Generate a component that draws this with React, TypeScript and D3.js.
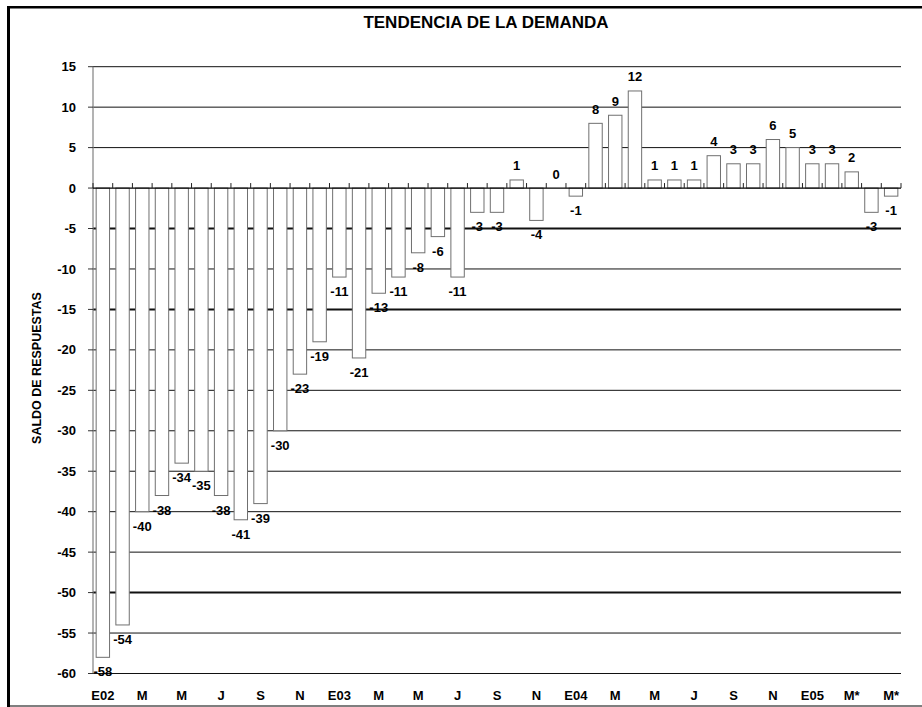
import React from "react";
import * as d3 from "d3";

const categories = ["E02","F","M","A","M","J","J","A","S","O","N","D","E03","F","M","A","M","J","J","A","S","O","N","D","E04","F","M","A","M","J","J","A","S","O","N","D","E05","F","M*","A","M*"];
const values = [-58,-54,-40,-38,-34,-35,-38,-41,-39,-30,-23,-19,-11,-21,-13,-11,-8,-6,-11,-3,-3,1,-4,0,-1,8,9,12,1,1,1,4,3,3,6,5,3,3,2,-3,-1];
const yTicks = [15,10,5,0,-5,-10,-15,-20,-25,-30,-35,-40,-45,-50,-55,-60];
const thickLines = [-5,-15,-50];
const title = "TENDENCIA DE LA DEMANDA";
const yTitle = "SALDO DE RESPUESTAS";

const W = 922, H = 707;
const X0 = 93, X1 = 901;
const FONT = "Arial, 'Liberation Sans', sans-serif";

export default function App() {
  const idx = categories.map((_, i) => i);
  const pi = 0.32;
  const x = d3.scaleBand<number>().domain(idx).range([X0, X1]).paddingInner(pi).paddingOuter(pi / 2);
  const y = d3.scaleLinear().domain([-60, 15]).range([673.5, 66.7]);
  const step = x.step();
  const bw = x.bandwidth();
  const boundaries = d3.range(categories.length + 1).map(i => X0 + i * step);

  return (
    <svg width={W} height={H} style={{ position: "fixed", left: 0, top: 0, background: "#fff" }} fontFamily={FONT}>
      <rect x={0} y={0} width={W} height={H} fill="#fff" />
      {/* border */}
      <line x1={7} x2={W} y1={7.3} y2={7.3} stroke="#000" strokeWidth={2.6} />
      <line x1={8.5} x2={8.5} y1={6} y2={H} stroke="#000" strokeWidth={3} />
      <line x1={7} x2={W} y1={706} y2={706} stroke="#000" strokeWidth={1.2} />

      <text x={486} y={28} textAnchor="middle" fontSize={17} fontWeight="bold">{title}</text>

      {/* gridlines */}
      {yTicks.filter(t => t !== 0).map(t => (
        <line key={t} x1={X0} x2={X1} y1={y(t)} y2={y(t)} stroke="#111"
          strokeWidth={thickLines.includes(t) ? 2 : 1} />
      ))}

      {/* y axis */}
      <line x1={X0} x2={X0} y1={y(15)} y2={y(-60)} stroke="#808080" strokeWidth={1.2} />
      {yTicks.map(t => (
        <g key={t}>
          <line x1={X0 - 5} x2={X0} y1={y(t)} y2={y(t)} stroke="#333" strokeWidth={1} />
          <text x={76} y={y(t)} dy="0.35em" textAnchor="end" fontSize={13} fontWeight="bold">{t}</text>
        </g>
      ))}
      <text transform={`translate(37,368) rotate(-90)`} textAnchor="middle" fontSize={12.5} fontWeight="bold" dy="0.35em">{yTitle}</text>

      {/* bars */}
      {values.map((v, i) => (
        <rect key={i} x={x(i)!} width={bw} y={Math.min(y(v), y(0))} height={Math.abs(y(v) - y(0))}
          fill="#fff" stroke="#707070" strokeWidth={1} />
      ))}

      {/* x axis at zero */}
      <line x1={X0} x2={X1} y1={y(0)} y2={y(0)} stroke="#000" strokeWidth={1.2} />
      {boundaries.map((b, i) => (
        <line key={i} x1={b} x2={b} y1={y(0) - 5} y2={y(0)} stroke="#222" strokeWidth={1} />
      ))}

      {/* x tick labels */}
      {categories.map((c, i) => i % 2 === 0 ? (
        <text key={i} x={x(i)! + bw / 2} y={700} textAnchor="middle" fontSize={13} fontWeight="bold">{c}</text>
      ) : null)}

      {/* data labels */}
      {values.map((v, i) => (
        <text key={i} x={x(i)! + bw / 2} y={v >= 0 ? y(v) - 9.5 : y(v) + 19} textAnchor="middle" fontSize={13} fontWeight="bold">{v}</text>
      ))}
    </svg>
  );
}
